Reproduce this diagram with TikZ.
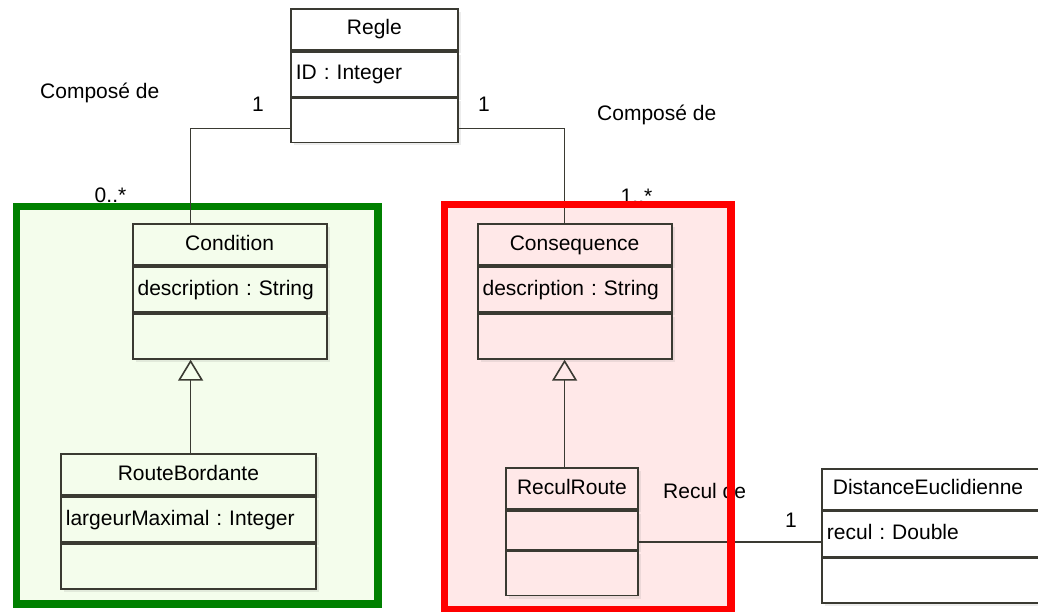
\documentclass[tikz,border=0pt]{standalone}
\usepackage{fontspec}
\setmainfont{Liberation Sans}
\usetikzlibrary{positioning, arrows.meta, shadows}

\definecolor{umlline}{HTML}{3A3A32}
\definecolor{condgreen}{HTML}{008000}
\definecolor{condbg}{HTML}{F4FDEC}
\definecolor{consred}{HTML}{FF0000}
\definecolor{consbg}{HTML}{FFE8E8}

\tikzstyle{classpart} = [rectangle, draw=umlline, line width=1.8pt, inner xsep=5pt, inner ysep=0pt, text height=15pt, text depth=4pt, fill=white, drop shadow={shadow xshift=3pt, shadow yshift=-3pt, opacity=0.15}]
\tikzstyle{classname} = [classpart, minimum height=41pt, align=center]
\tikzstyle{classattr} = [classpart, minimum height=45pt, align=left]
\tikzstyle{line} = [draw=umlline, line width=1.6pt]
\tikzstyle{inherit} = [draw=umlline, line width=1.6pt, -{Triangle[open, width=25pt, length=21pt, line width=1.6pt]}]
\tikzstyle{roletext} = [inner sep=0pt, text height=15pt, text depth=4pt]
\tikzstyle{zone} = [rectangle, inner sep=0pt, anchor=north west]

\begin{document}
\begin{tikzpicture}[x=1pt, y=-1pt, font=\fontsize{21}{26}\selectfont\frenchspacing]
\useasboundingbox (0,0) rectangle (1038,612);
\clip (0,0) rectangle (1038,612);

% colored areas
\node [zone, fill=condbg, minimum width=361pt, minimum height=397pt] (condzone) at (16.5,206.5) {};
\node [zone, fill=consbg, minimum width=286pt, minimum height=405pt] (conszone) at (444.5,204.5) {};

% association labels
\node [roletext, anchor=west] (condrole) at (40,93) {Composé de};
\node [roletext] (condone) at (258,106) {1};
\node [roletext] (condmany) at (110.5,197) {0..*};
\node [roletext] (consone) at (484,106) {1};
\node [roletext, anchor=west] (consrole) at (597,115) {Composé de};
\node [roletext] (consmany) at (636.5,198) {1..*};
\node [roletext, anchor=west] (reculrole) at (663,493) {Recul de};
\node [roletext] (reculone) at (791,522) {1};

\draw [condgreen, line width=7.5pt] (condzone.north west) rectangle (condzone.south east);

% classes
\node [classname, text width=157pt, anchor=north west] (reglename) at (290,8) {Regle};
\node [classattr, text width=157pt, below=0pt of reglename] (regleattr) {ID : Integer};
\node [classattr, text width=157pt, minimum height=44pt, below=0pt of regleattr] (regleops) {};

\node [classname, fill=condbg, text width=184pt, anchor=north west] (condname) at (131.7,223.3) {Condition};
\node [classattr, fill=condbg, text width=184pt, below=0pt of condname] (condattr) {description : String};
\node [classattr, fill=condbg, text width=184pt, below=0pt of condattr] (condops) {};

\node [classname, fill=condbg, text width=245pt, anchor=north west] (rbname) at (60,453.3) {RouteBordante};
\node [classattr, fill=condbg, text width=245pt, below=0pt of rbname] (rbattr) {largeurMaximal : Integer};
\node [classattr, fill=condbg, text width=245pt, below=0pt of rbattr] (rbops) {};

\node [classname, fill=consbg, text width=184pt, anchor=north west] (consname) at (476.7,223.3) {Consequence};
\node [classattr, fill=consbg, text width=184pt, below=0pt of consname] (consattr) {description : String};
\node [classattr, fill=consbg, text width=184pt, below=0pt of consattr] (consops) {};

\node [classname, fill=consbg, text width=121.4pt, anchor=north west] (reculname) at (505.3,467.3) {ReculRoute};
\node [classattr, fill=consbg, text width=121.4pt, minimum height=38.4pt, below=0pt of reculname] (reculattr) {};
\node [classattr, fill=consbg, text width=121.4pt, minimum height=44.3pt, below=0pt of reculattr] (reculops) {};

\node [classname, align=left, inner xsep=11pt, text width=208pt, anchor=north west] (decname) at (821,467.7) {DistanceEuclidienne};
\node [classattr, text width=220pt, below=0pt of decname] (decattr) {recul : Double};
\node [classattr, text width=220pt, below=0pt of decattr] (decops) {};

% links
\coordinate (condfoot) at ([xshift=-39pt]condops.south);
\coordinate (consfoot) at ([xshift=-10pt]consops.south);
\coordinate (decend) at ([yshift=-8pt]decattr.west);
\draw [line] ([yshift=15pt]regleops.south west) -| ([xshift=-39pt]condname.north);
\draw [inherit] (rbname.north -| condfoot) -- (condfoot);
\draw [line] ([yshift=15pt]regleops.south east) -| ([xshift=-10pt]consname.north);
\draw [inherit] (reculname.north -| consfoot) -- (consfoot);
\draw [line] (reculattr.east |- decend) -- (decend);

\draw [consred, line width=7.5pt] (conszone.north west) rectangle (conszone.south east);
\end{tikzpicture}
\end{document}
